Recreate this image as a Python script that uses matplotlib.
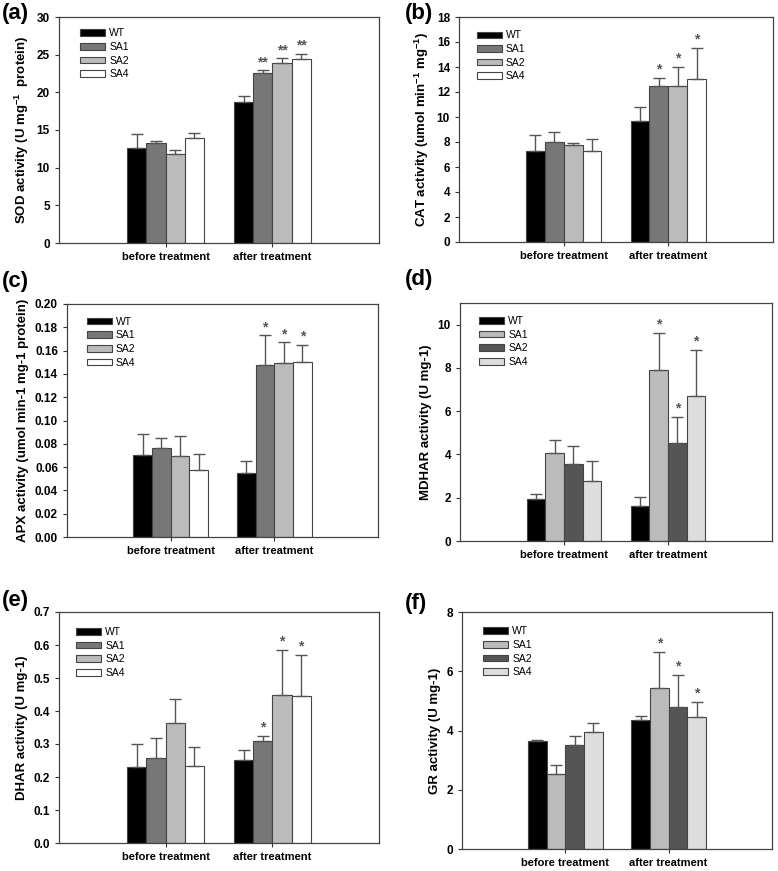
import numpy as np
import matplotlib
matplotlib.use('Agg')
import matplotlib.pyplot as plt

plt.rcParams['font.family'] = ['Liberation Sans', 'DejaVu Sans']
plt.rcParams['mathtext.fontset'] = 'custom'
plt.rcParams['mathtext.rm'] = 'Liberation Sans:bold'
plt.rcParams['mathtext.bf'] = 'Liberation Sans:bold'
plt.rcParams['mathtext.it'] = 'Liberation Sans:bold'

groups = ['before treatment', 'after treatment']
lines = ['WT', 'SA1', 'SA2', 'SA4']

# (a) SOD
sod_mean = [[12.65, 13.3, 11.75, 14.0], [18.75, 22.6, 23.9, 24.4]]
sod_err = [[1.8, 0.3, 0.55, 0.55], [0.7, 0.3, 0.6, 0.65]]
sod_sig = [['', '', '', ''], ['', '**', '**', '**']]

# (b) CAT
cat_mean = [[7.28, 8.03, 7.73, 7.28], [9.71, 12.5, 12.48, 13.0]]
cat_err = [[1.3, 0.77, 0.17, 0.96], [1.08, 0.6, 1.52, 2.5]]
cat_sig = [['', '', '', ''], ['', '*', '*', '*']]

# (c) APX
apx_mean = [[0.0705, 0.0765, 0.0693, 0.0573], [0.055, 0.148, 0.149, 0.150]]
apx_err = [[0.0183, 0.0089, 0.0175, 0.0143], [0.0106, 0.025, 0.018, 0.015]]
apx_sig = [['', '', '', ''], ['', '*', '*', '*']]

# (d) MDHAR
mdhar_mean = [[1.94, 4.08, 3.54, 2.77], [1.62, 7.92, 4.51, 6.69]]
mdhar_err = [[0.25, 0.57, 0.85, 0.94], [0.43, 1.69, 1.21, 2.14]]
mdhar_sig = [['', '', '', ''], ['', '*', '*', '*']]

# (e) DHAR
dhar_mean = [[0.2316, 0.258, 0.3646, 0.2336], [0.2507, 0.309, 0.447, 0.445]]
dhar_err = [[0.069, 0.06, 0.071, 0.058], [0.03, 0.015, 0.137, 0.126]]
dhar_sig = [['', '', '', ''], ['', '*', '*', '*']]

# (f) GR
gr_mean = [[3.66, 2.53, 3.52, 3.96], [4.36, 5.42, 4.78, 4.45]]
gr_err = [[0.03, 0.32, 0.28, 0.28], [0.13, 1.24, 1.09, 0.51]]
gr_sig = [['', '', '', ''], ['', '*', '*', '*']]

colors_1 = ['black', '#777777', '#bbbbbb', 'white']
colors_2 = ['black', '#bbbbbb', '#555555', '#dddddd']

edge = '#444444'
width = 0.18
offsets = (np.arange(len(lines)) - 1.5) * width


def draw(ax, mean, err, sig, colors, ymax, ystep, fmt, ylabel, leg_xy):
    x = np.arange(len(groups))
    for i, name in enumerate(lines):
        vals = [m[i] for m in mean]
        errs = [e[i] for e in err]
        ax.bar(x + offsets[i], vals, width, color=colors[i], edgecolor=edge,
               linewidth=0.8, label=name, zorder=2)
        ax.errorbar(x + offsets[i], vals, yerr=[np.zeros(len(vals)), errs],
                    fmt='none', ecolor='#555555', elinewidth=1.0, capsize=4,
                    capthick=1.0, zorder=3)
        for g in range(len(groups)):
            if sig[g][i]:
                ax.annotate(sig[g][i], (x[g] + offsets[i], vals[g] + errs[g]),
                            xytext=(0, 1), textcoords='offset points',
                            ha='center', va='bottom', fontsize=10,
                            fontweight='bold', color='#555555')
    ax.set_xlim(-1, 2)
    ax.set_ylim(0, ymax)
    ax.set_yticks(np.arange(0, ymax + 1e-9, ystep))
    ax.yaxis.set_major_formatter(matplotlib.ticker.FormatStrFormatter(fmt))
    ax.set_xticks(x)
    ax.set_xticklabels(groups, fontsize=8, fontweight='bold')
    for lab in ax.get_yticklabels():
        lab.set_fontweight('bold')
        lab.set_fontsize(8.5)
    ax.tick_params(direction='out', length=3, width=0.8, color='#333333')
    ax.set_ylabel(ylabel, fontsize=9.5, fontweight='bold')
    for sp in ax.spines.values():
        sp.set_color('#444444')
        sp.set_linewidth(0.9)
    ax.legend(loc='upper left', bbox_to_anchor=leg_xy, frameon=False,
              fontsize=7.5, handlelength=2.4, handleheight=0.6,
              handletextpad=0.4, labelspacing=0.35, borderpad=0,
              borderaxespad=0)


W, H = 778, 871
fig = plt.figure(figsize=(W / 100, H / 100), dpi=100)


def add_axes(x0, y0, x1, y1):
    return fig.add_axes([x0 / W, 1 - y1 / H, (x1 - x0) / W, (y1 - y0) / H])


ax = add_axes(59, 17, 379, 243)
draw(ax, sod_mean, sod_err, sod_sig, colors_1, 30, 5, '%d',
     r'SOD activity (U mg$^{-1}$  protein)', (0.066, 0.95))

ax = add_axes(459, 17, 773, 242)
draw(ax, cat_mean, cat_err, cat_sig, colors_1, 18, 2, '%d',
     r'CAT activity (umol min$^{-1}$ mg$^{-1}$)', (0.057, 0.94))

ax = add_axes(67, 304, 378, 537)
draw(ax, apx_mean, apx_err, apx_sig, colors_1, 0.2, 0.02, '%.2f',
     'APX activity (umol min-1 mg-1 protein)', (0.064, 0.945))

ax = add_axes(460, 303, 772, 541)
draw(ax, mdhar_mean, mdhar_err, mdhar_sig, colors_2, 11, 2, '%d',
     'MDHAR activity (U mg-1)', (0.061, 0.945))
ax.set_yticks(np.arange(0, 11, 2))

ax = add_axes(59, 612, 379, 843)
draw(ax, dhar_mean, dhar_err, dhar_sig, colors_1, 0.7, 0.1, '%.1f',
     'DHAR activity (U mg-1)', (0.053, 0.935))

ax = add_axes(462, 612, 772, 849)
draw(ax, gr_mean, gr_err, gr_sig, colors_2, 8, 2, '%d',
     'GR activity (U mg-1)', (0.068, 0.94))

letters = [('(a)', 2, 13), ('(b)', 405, 13), ('(c)', 2, 281),
           ('(d)', 405, 279), ('(e)', 2, 600), ('(f)', 405, 604)]
for txt, px, py in letters:
    fig.text(px / W, 1 - py / H, txt, fontsize=16, fontweight='bold',
             ha='left', va='center')

fig.savefig('out.png', dpi=100)
